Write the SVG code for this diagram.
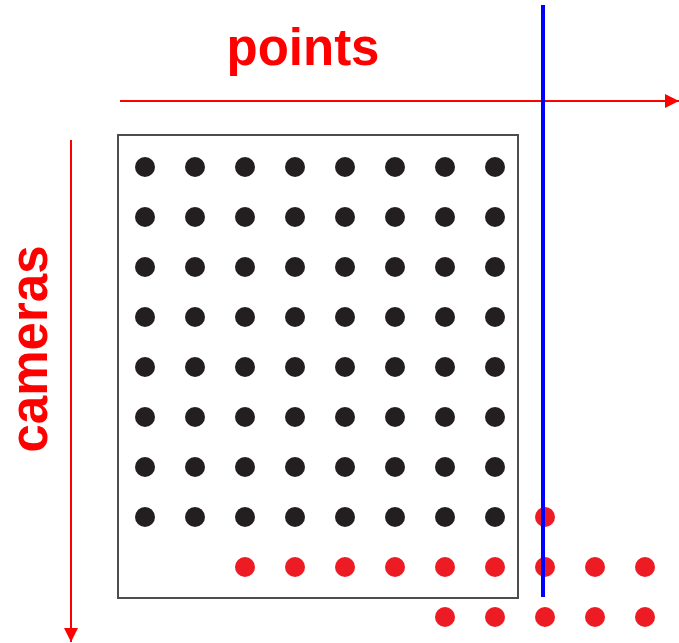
<svg xmlns="http://www.w3.org/2000/svg" width="679" height="643" viewBox="0 0 679 643">
<style>
.lbl{font-family:"Liberation Sans",Arial,sans-serif;font-weight:bold;fill:#ff0000;font-size:51px}
.d{fill:#231f20}
.r{fill:#ed1c24}
.ax{stroke:#ff0000;stroke-width:2;fill:none}
</style>
<defs>
<marker id="ah" viewBox="0 0 10 10" refX="10" refY="5" markerWidth="14" markerHeight="14" markerUnits="userSpaceOnUse" orient="auto">
<path d="M0,0 L10,5 L0,10 Z" fill="#ff0000"/>
</marker>
</defs>
<rect width="679" height="643" fill="#fff"/>
<g id="connectors">
<line class="ax" x1="120" y1="101" x2="679" y2="101" marker-end="url(#ah)"/>
<line class="ax" x1="71" y1="140" x2="71" y2="642" marker-end="url(#ah)"/>
</g>
<g id="label-points"><text class="lbl" x="303" y="65" text-anchor="middle">points</text></g>
<g id="label-cameras"><text class="lbl" transform="translate(47,349) rotate(-90)" text-anchor="middle">cameras</text></g>
<g id="matrix">
<rect x="118" y="135" width="400" height="463" fill="none" stroke="#4d4d4d" stroke-width="2"/>
<g id="black-dots">
<g id="row1"><circle class="d" cx="145" cy="167" r="10"/><circle class="d" cx="195" cy="167" r="10"/><circle class="d" cx="245" cy="167" r="10"/><circle class="d" cx="295" cy="167" r="10"/><circle class="d" cx="345" cy="167" r="10"/><circle class="d" cx="395" cy="167" r="10"/><circle class="d" cx="445" cy="167" r="10"/><circle class="d" cx="495" cy="167" r="10"/></g>
<g id="row2"><circle class="d" cx="145" cy="217" r="10"/><circle class="d" cx="195" cy="217" r="10"/><circle class="d" cx="245" cy="217" r="10"/><circle class="d" cx="295" cy="217" r="10"/><circle class="d" cx="345" cy="217" r="10"/><circle class="d" cx="395" cy="217" r="10"/><circle class="d" cx="445" cy="217" r="10"/><circle class="d" cx="495" cy="217" r="10"/></g>
<g id="row3"><circle class="d" cx="145" cy="267" r="10"/><circle class="d" cx="195" cy="267" r="10"/><circle class="d" cx="245" cy="267" r="10"/><circle class="d" cx="295" cy="267" r="10"/><circle class="d" cx="345" cy="267" r="10"/><circle class="d" cx="395" cy="267" r="10"/><circle class="d" cx="445" cy="267" r="10"/><circle class="d" cx="495" cy="267" r="10"/></g>
<g id="row4"><circle class="d" cx="145" cy="317" r="10"/><circle class="d" cx="195" cy="317" r="10"/><circle class="d" cx="245" cy="317" r="10"/><circle class="d" cx="295" cy="317" r="10"/><circle class="d" cx="345" cy="317" r="10"/><circle class="d" cx="395" cy="317" r="10"/><circle class="d" cx="445" cy="317" r="10"/><circle class="d" cx="495" cy="317" r="10"/></g>
<g id="row5"><circle class="d" cx="145" cy="367" r="10"/><circle class="d" cx="195" cy="367" r="10"/><circle class="d" cx="245" cy="367" r="10"/><circle class="d" cx="295" cy="367" r="10"/><circle class="d" cx="345" cy="367" r="10"/><circle class="d" cx="395" cy="367" r="10"/><circle class="d" cx="445" cy="367" r="10"/><circle class="d" cx="495" cy="367" r="10"/></g>
<g id="row6"><circle class="d" cx="145" cy="417" r="10"/><circle class="d" cx="195" cy="417" r="10"/><circle class="d" cx="245" cy="417" r="10"/><circle class="d" cx="295" cy="417" r="10"/><circle class="d" cx="345" cy="417" r="10"/><circle class="d" cx="395" cy="417" r="10"/><circle class="d" cx="445" cy="417" r="10"/><circle class="d" cx="495" cy="417" r="10"/></g>
<g id="row7"><circle class="d" cx="145" cy="467" r="10"/><circle class="d" cx="195" cy="467" r="10"/><circle class="d" cx="245" cy="467" r="10"/><circle class="d" cx="295" cy="467" r="10"/><circle class="d" cx="345" cy="467" r="10"/><circle class="d" cx="395" cy="467" r="10"/><circle class="d" cx="445" cy="467" r="10"/><circle class="d" cx="495" cy="467" r="10"/></g>
<g id="row8"><circle class="d" cx="145" cy="517" r="10"/><circle class="d" cx="195" cy="517" r="10"/><circle class="d" cx="245" cy="517" r="10"/><circle class="d" cx="295" cy="517" r="10"/><circle class="d" cx="345" cy="517" r="10"/><circle class="d" cx="395" cy="517" r="10"/><circle class="d" cx="445" cy="517" r="10"/><circle class="d" cx="495" cy="517" r="10"/></g>
</g>
<g id="red-dots">
<circle class="r" cx="545" cy="517" r="10"/>
<circle class="r" cx="245" cy="567" r="10"/><circle class="r" cx="295" cy="567" r="10"/><circle class="r" cx="345" cy="567" r="10"/><circle class="r" cx="395" cy="567" r="10"/><circle class="r" cx="445" cy="567" r="10"/><circle class="r" cx="495" cy="567" r="10"/><circle class="r" cx="545" cy="567" r="10"/><circle class="r" cx="595" cy="567" r="10"/><circle class="r" cx="645" cy="567" r="10"/>
<circle class="r" cx="445" cy="617" r="10"/><circle class="r" cx="495" cy="617" r="10"/><circle class="r" cx="545" cy="617" r="10"/><circle class="r" cx="595" cy="617" r="10"/><circle class="r" cx="645" cy="617" r="10"/>
</g>
</g>
<g id="blue-line"><line x1="543" y1="5" x2="543" y2="597" stroke="#0000ff" stroke-width="4"/></g>
</svg>
